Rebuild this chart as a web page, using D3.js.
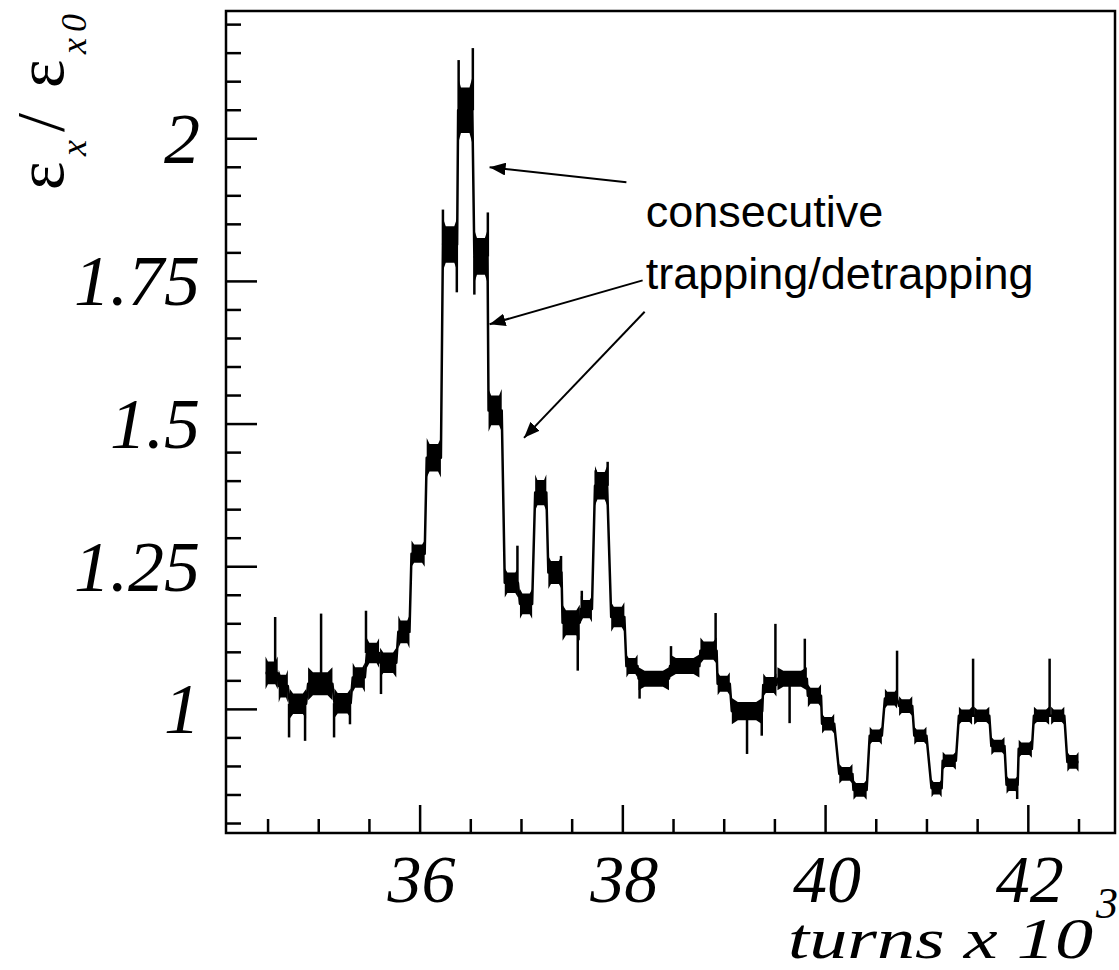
<!DOCTYPE html>
<html lang="en">
<head>
    <meta charset="UTF-8">
    <title>Emittance growth vs turns</title>
    <script src="https://d3js.org/d3.v7.min.js"></script>
    <style>
        html, body { margin: 0; background: #fff; overflow: hidden; }
        svg { display: block; }
        .tick-label { font-family: "Liberation Serif", "Times New Roman", serif; font-style: italic; fill: #000; }
        .note { font-family: "Liberation Sans", Arial, sans-serif; font-size: 45px; fill: #000; }
        .trace { fill: none; stroke: #000; stroke-width: 2.5px; stroke-linejoin: round; }
        .band { fill: #000; }
        .spike { stroke: #000; stroke-width: 2.5px; }
    </style>
</head>
<body>
    <svg width="1119" height="970"></svg>

    <script>
        // plateaus of the trace (turns x 10^3, emittance ratio, half-thickness of the noisy band)
        const plateauStart = [34.48, 34.61, 34.72, 34.90, 35.16, 35.34, 35.48, 35.61, 35.79, 35.92,
            36.07, 36.23, 36.38, 36.54, 36.68, 36.84, 36.99, 37.14, 37.27, 37.41,
            37.59, 37.73, 37.89, 38.04, 38.16, 38.47, 38.77, 38.94, 39.08, 39.39,
            39.53, 39.83, 39.97, 40.14, 40.28, 40.44, 40.59, 40.73, 40.88, 41.05,
            41.16, 41.32, 41.47, 41.64, 41.79, 41.91, 42.06, 42.23, 42.39];
        const plateauEnd = [34.60, 34.70, 34.88, 35.14, 35.32, 35.46, 35.60, 35.77, 35.90, 36.05,
            36.21, 36.37, 36.52, 36.67, 36.81, 36.97, 37.11, 37.25, 37.40, 37.58,
            37.70, 37.85, 38.02, 38.15, 38.46, 38.76, 38.93, 39.06, 39.38, 39.52,
            39.82, 39.96, 40.09, 40.27, 40.41, 40.56, 40.71, 40.86, 41.00, 41.15,
            41.29, 41.45, 41.62, 41.77, 41.90, 42.04, 42.21, 42.36, 42.50];
        const plateauLevel = [1.063, 1.040, 1.009, 1.044, 1.010, 1.055, 1.098, 1.081, 1.135, 1.272,
            1.440, 1.814, 2.049, 1.793, 1.523, 1.221, 1.184, 1.379, 1.239, 1.151,
            1.175, 1.391, 1.161, 1.075, 1.053, 1.075, 1.102, 1.044, 0.996, 1.042,
            1.053, 1.023, 0.974, 0.886, 0.858, 0.953, 1.018, 1.005, 0.953, 0.861,
            0.909, 0.988, 0.988, 0.935, 0.867, 0.930, 0.988, 0.988, 0.907];
        const plateauNoise = [0.020, 0.020, 0.018, 0.020, 0.018, 0.018, 0.018, 0.018, 0.020, 0.016,
            0.024, 0.032, 0.040, 0.032, 0.026, 0.018, 0.018, 0.022, 0.020, 0.022,
            0.016, 0.024, 0.018, 0.014, 0.014, 0.014, 0.016, 0.014, 0.016, 0.014,
            0.014, 0.014, 0.012, 0.012, 0.012, 0.011, 0.012, 0.012, 0.011, 0.011,
            0.011, 0.011, 0.011, 0.011, 0.011, 0.011, 0.011, 0.011, 0.012];

        // isolated spikes
        const spikeX = [34.575, 34.712, 34.870, 35.028, 35.156, 35.313, 35.471, 35.619, 36.230, 36.367,
            36.385, 36.525, 36.540, 36.673, 36.965, 37.395, 37.560, 37.600, 37.737, 37.855,
            38.170, 38.480, 38.920, 39.230, 39.375, 39.510, 39.650, 39.800, 40.710, 41.460,
            41.895, 42.215];
        const spikeY = [1.161, 0.950, 0.944, 1.167, 0.950, 0.973, 1.172, 1.026, 1.875, 1.730,
            2.137, 2.158, 1.726, 1.870, 1.286, 1.268, 1.067, 1.207, 1.418, 1.433,
            1.018, 1.110, 1.168, 0.921, 0.953, 1.149, 0.975, 1.123, 1.102, 1.088,
            0.842, 1.088];

        const xMajor = [36, 38, 40, 42];
        const yMajor = [1, 1.25, 1.5, 1.75, 2];

        // arrows: [tailX, tailY, tipX, tipY] in data units
        const arrows = [
            [38.04, 1.923, 36.69, 1.949],
            [38.20, 1.751, 36.69, 1.674],
            [38.22, 1.696, 37.03, 1.475]
        ];
        const noteLines = ["consecutive", "trapping/detrapping"];

        const svg = d3.select("svg");
        const frameL = 226, frameR = 1115, frameT = 11, frameB = 833;

        const x = d3.scaleLinear().domain([34.09, 42.86]).range([frameL, frameR]);
        const y = d3.scaleLinear().domain([0.7825, 2.223]).range([frameB, frameT]);

        const plateaus = plateauStart.map((s, i) => ({
            x0: s, x1: plateauEnd[i], level: plateauLevel[i], noise: plateauNoise[i]
        }));

        // ticks (inside the frame)
        const yMinor = d3.range(0.8, 2.21, 0.05).filter(v => !yMajor.some(m => Math.abs(m - v) < 1e-6));
        const xMinor = d3.range(34.5, 42.51, 0.5).filter(v => !xMajor.includes(v));

        const yAxisMajor = d3.axisRight(y).tickValues(yMajor).tickSize(31).tickFormat("");
        const yAxisMinor = d3.axisRight(y).tickValues(yMinor).tickSize(15).tickFormat("");
        const xAxisMajor = d3.axisTop(x).tickValues(xMajor).tickSize(28).tickFormat("");
        const xAxisMinor = d3.axisTop(x).tickValues(xMinor).tickSize(14).tickFormat("");

        [yAxisMajor, yAxisMinor].forEach(ax => {
            svg.append("g").attr("transform", `translate(${frameL},0)`).call(ax)
                .call(g => g.select(".domain").remove())
                .selectAll("line").attr("stroke", "#000").attr("stroke-width", 2.5);
        });
        [xAxisMajor, xAxisMinor].forEach(ax => {
            svg.append("g").attr("transform", `translate(0,${frameB})`).call(ax)
                .call(g => g.select(".domain").remove())
                .selectAll("line").attr("stroke", "#000").attr("stroke-width", 2.5);
        });

        // tick labels
        svg.selectAll(".ylab").data(yMajor).enter().append("text")
            .attr("class", "tick-label")
            .attr("font-size", 72)
            .attr("x", 200).attr("y", d => y(d)).attr("dy", "0.34em")
            .attr("text-anchor", "end")
            .text(d => d);
        svg.selectAll(".xlab").data(xMajor).enter().append("text")
            .attr("class", "tick-label")
            .attr("font-size", 68)
            .attr("x", d => x(d) + 2).attr("y", 902)
            .attr("text-anchor", "middle")
            .text(d => d);

        // noisy plateau bands
        const bandPath = p => {
            const xa = x(p.x0), xb = x(p.x1), w = xb - xa;
            const yt = y(p.level + p.noise), yb = y(p.level - p.noise);
            const f = (yb - yt) * 0.22;
            return `M${xa},${yt - f}L${xa + w * 0.2},${yt}L${xb - w * 0.2},${yt}L${xb},${yt - f}` +
                `L${xb},${yb + f}L${xb - w * 0.2},${yb}L${xa + w * 0.2},${yb}L${xa},${yb + f}Z`;
        };
        svg.selectAll(".band").data(plateaus).enter().append("path")
            .attr("class", "band")
            .attr("d", bandPath);

        // trace through the plateaus
        const tracePts = plateaus.flatMap(p => [[p.x0, p.level], [p.x1, p.level]]);
        svg.append("path")
            .attr("class", "trace")
            .attr("d", d3.line().x(d => x(d[0])).y(d => y(d[1]))(tracePts));

        // spikes from the local plateau level
        const baseAt = sx => {
            let best = plateaus[0], dist = Infinity;
            plateaus.forEach(p => {
                const d = sx < p.x0 ? p.x0 - sx : (sx > p.x1 ? sx - p.x1 : 0);
                if (d < dist) { dist = d; best = p; }
            });
            return best.level;
        };
        svg.selectAll(".spike").data(spikeX).enter().append("line")
            .attr("class", "spike")
            .attr("x1", d => x(d)).attr("x2", d => x(d))
            .attr("y1", d => y(baseAt(d)))
            .attr("y2", (d, i) => y(spikeY[i]));

        // frame
        svg.append("rect")
            .attr("x", frameL).attr("y", frameT)
            .attr("width", frameR - frameL).attr("height", frameB - frameT)
            .attr("fill", "none").attr("stroke", "#000").attr("stroke-width", 2.5);

        // annotation
        svg.append("defs").append("marker")
            .attr("id", "head").attr("viewBox", "0 0 10 8")
            .attr("refX", 10).attr("refY", 4)
            .attr("markerWidth", 8).attr("markerHeight", 6.4)
            .attr("markerUnits", "strokeWidth")
            .attr("orient", "auto")
            .append("path").attr("d", "M0,0L10,4L0,8Z").attr("fill", "#000");

        svg.selectAll(".arrow").data(arrows).enter().append("line")
            .attr("x1", d => x(d[0])).attr("y1", d => y(d[1]))
            .attr("x2", d => x(d[2])).attr("y2", d => y(d[3]))
            .attr("stroke", "#000").attr("stroke-width", 2)
            .attr("marker-end", "url(#head)");

        svg.selectAll(".note").data(noteLines).enter().append("text")
            .attr("class", "note")
            .attr("x", x(38.23))
            .attr("y", (d, i) => y(1.845) + i * 62)
            .text(d => d);

        // axis titles
        svg.append("text")
            .attr("class", "tick-label")
            .attr("x", 788).attr("y", 958)
            .attr("font-size", 58)
            .attr("textLength", 305).attr("lengthAdjust", "spacingAndGlyphs")
            .text("turns x 10");
        svg.append("text")
            .attr("class", "tick-label")
            .attr("x", 1096).attr("y", 918)
            .attr("font-size", 44)
            .text("3");

        const yt = svg.append("text")
            .attr("transform", "translate(63,190) rotate(-90)")
            .attr("font-family", "'Liberation Serif', 'Times New Roman', serif")
            .attr("font-size", 68)
            .attr("fill", "#000");
        yt.append("tspan").attr("x", 0).attr("y", 0).text("ε");
        yt.append("tspan").attr("x", 34).attr("y", 23)
            .attr("font-style", "italic").attr("font-size", 36).text("x");
        yt.append("tspan").attr("x", 58).attr("y", 0).text("/");
        yt.append("tspan").attr("x", 102).attr("y", 0).text("ε");
        yt.append("tspan").attr("x", 136).attr("y", 23)
            .attr("font-style", "italic").attr("font-size", 36)
            .attr("letter-spacing", 6).text("x0");
    </script>
</body>
</html>
